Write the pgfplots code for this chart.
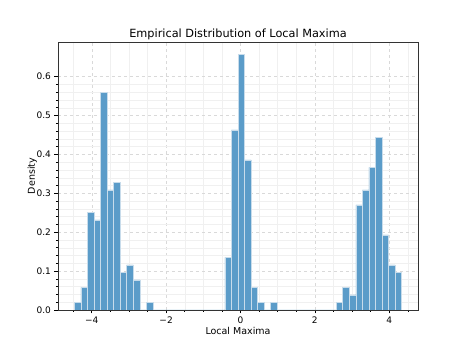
\documentclass[border=0pt]{standalone}
\usepackage{pgfplots}
\pgfplotsset{compat=1.18}
\usepackage{fontspec}
\setmainfont{DejaVu Sans}

\definecolor{barblue}{RGB}{91,156,201}
\definecolor{baredge}{RGB}{200,220,235}

% histogram: left bin edges (50 bins, width 0.17604), density values
\pgfplotstableread{
x density
-4.4680 0.0193
-4.2920 0.0579
-4.1159 0.2509
-3.9399 0.2316
-3.7638 0.5597
-3.5878 0.3088
-3.4118 0.3281
-3.2357 0.0965
-3.0597 0.1158
-2.8836 0.0772
-2.7076 0.0000
-2.5316 0.0193
-2.3555 0.0000
-0.4191 0.1351
-0.2431 0.4632
-0.0670 0.6562
0.1090 0.3860
0.2851 0.0579
0.4611 0.0193
0.6371 0.0000
0.8132 0.0193
0.9892 0.0000
2.5736 0.0193
2.7496 0.0579
2.9257 0.0386
3.1017 0.2702
3.2778 0.3088
3.4538 0.3667
3.6298 0.4439
3.8059 0.1930
3.9819 0.1158
4.1580 0.0965
4.3340 0.0000
}\hist

\begin{document}
\begin{tikzpicture}
\useasboundingbox (-58pt,-38pt) rectangle (406pt,310pt);
\begin{axis}[
    scale only axis,
    width=360pt, height=268pt,
    xmin=-4.908, xmax=4.774,
    ymin=0, ymax=0.689,
    xtick={-4,-2,0,2,4},
    xticklabels={−4,−2,0,2,4},
    minor xtick={-4.5,-3.5,-3,-2.5,-1.5,-1,-0.5,0.5,1,1.5,2.5,3,3.5,4.5},
    ytick={0,0.1,0.2,0.3,0.4,0.5,0.6},
    minor y tick num=4,
    yticklabel style={/pgf/number format/.cd, fixed, fixed zerofill, precision=1},
    /pgf/number format/assume math mode=true,
    tick label style={font=\fontsize{9}{11}\selectfont},
    tick align=outside,
    tick pos=left,
    major tick length=3.5pt,
    minor tick length=2pt,
    every tick/.style={black, line width=0.6pt},
    axis line style={black!80, line width=0.8pt},
    grid=both,
    major grid style={dashed, black!15, line width=0.5pt},
    minor grid style={black!6, line width=0.4pt},
    title={Empirical Distribution of Local Maxima},
    title style={font=\fontsize{11.3}{13}\selectfont, yshift=-7pt},
    xlabel={Local Maxima},
    ylabel={Density},
    label style={font=\fontsize{9.5}{11}\selectfont},
    xlabel style={yshift=3pt},
    ylabel style={yshift=-7pt},
]
\addplot[ybar interval, fill=barblue, draw=baredge, line width=0.6pt]
    table[x=x, y=density] {\hist};
\end{axis}
\end{tikzpicture}
\end{document}
